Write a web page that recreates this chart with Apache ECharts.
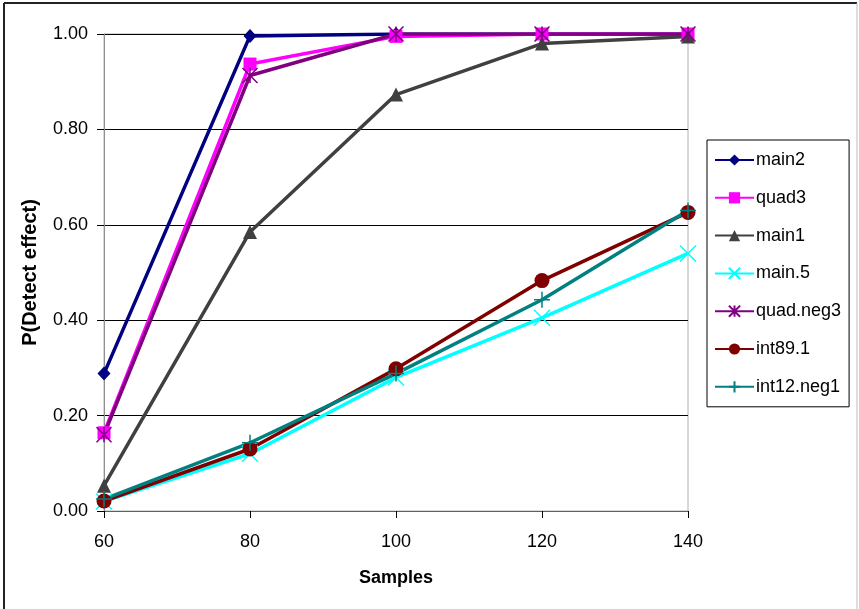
<!DOCTYPE html>
<html>
<head>
<meta charset="utf-8">
<script src="https://cdn.jsdelivr.net/npm/echarts@6/dist/echarts.min.js"></script>
<style>
html,body{margin:0;padding:0;background:#fff;}
#c{width:859px;height:609px;}
</style>
</head>
<body>
<div id="c"></div>
<script>
var categories = ['60', '80', '100', '120', '140'];
var yTicks = [0, 0.2, 0.4, 0.6, 0.8, 1.0];
var main2     = [0.288, 0.996, 1.000, 1.000, 1.000];
var quad3     = [0.164, 0.937, 0.995, 1.000, 1.000];
var main1     = [0.053, 0.585, 0.873, 0.980, 0.995];
var main5     = [0.020, 0.120, 0.280, 0.405, 0.540];
var quadNeg3  = [0.160, 0.913, 1.000, 1.000, 1.000];
var int891    = [0.021, 0.130, 0.298, 0.483, 0.626];
var int12neg1 = [0.025, 0.143, 0.288, 0.443, 0.630];
var seriesNames = ['main2', 'quad3', 'main1', 'main.5', 'quad.neg3', 'int89.1', 'int12.neg1'];
var seriesData = [main2, quad3, main1, main5, quadNeg3, int891, int12neg1];

var styles = [
  {color: '#000080', symbol: 'diamond', size: [13, 14], bw: 0},
  {color: '#FF00FF', symbol: 'rect', size: 13, bw: 0},
  {color: '#404040', symbol: 'triangle', size: 14, bw: 0},
  {color: '#00FFFF', symbol: 'path://M0,0L10,10M10,0L0,10', size: 16, bw: 1.5},
  {color: '#800080', symbol: 'path://M5,0L5,10M0,0L10,10M10,0L0,10', size: 15, bw: 1.5},
  {color: '#800000', symbol: 'circle', size: 15, bw: 0},
  {color: '#008080', symbol: 'path://M5,0L5,10M0,5L10,5', size: 16, bw: 1.5}
];

var font = '"Liberation Sans", Arial, sans-serif';
var chart = echarts.init(document.getElementById('c'), null, {renderer: 'canvas'});

var series = seriesNames.map(function (n, i) {
  var s = styles[i];
  return {
    name: n,
    type: 'line',
    data: seriesData[i],
    symbol: s.symbol,
    symbolSize: s.size,
    showAllSymbol: true,
    lineStyle: {color: s.color, width: 3.5},
    itemStyle: {color: s.color, borderColor: s.color, borderWidth: s.bw},
    emphasis: {disabled: true}
  };
});

chart.setOption({
  animation: false,
  backgroundColor: '#ffffff',
  grid: {left: 104, right: 171, top: 34, bottom: 98, show: true, borderColor: '#b0b0b0', borderWidth: 1},
  xAxis: {
    type: 'category',
    data: categories,
    boundaryGap: false,
    name: 'Samples',
    nameLocation: 'middle',
    nameGap: 58,
    nameTextStyle: {fontFamily: font, fontSize: 18, fontWeight: 'bold', color: '#000'},
    axisLine: {lineStyle: {color: '#606060', width: 1}},
    axisTick: {show: true, inside: false, length: 7, alignWithLabel: true, lineStyle: {color: '#000'}},
    axisLabel: {fontFamily: font, fontSize: 18, color: '#000', margin: 22},
    splitLine: {show: false}
  },
  yAxis: {
    type: 'value',
    min: yTicks[0],
    max: yTicks[yTicks.length - 1],
    interval: 0.2,
    name: 'P(Detect effect)',
    nameLocation: 'middle',
    nameGap: 64,
    nameTextStyle: {fontFamily: font, fontSize: 20, fontWeight: 'bold', color: '#000'},
    axisLine: {show: true, lineStyle: {color: '#909090', width: 1}},
    axisTick: {show: true, inside: false, length: 7, lineStyle: {color: '#000'}},
    axisLabel: {fontFamily: font, fontSize: 18, color: '#000', margin: 16,
      formatter: function (v) { return v.toFixed(2); }},
    splitLine: {show: true, lineStyle: {color: '#000', width: 1}}
  },
  legend: {
    orient: 'vertical',
    left: 707,
    top: 140,
    padding: [11, 8, 11, 7],
    itemWidth: 39,
    itemHeight: 14,
    itemGap: 19.8,
    borderColor: '#000',
    borderWidth: 1,
    textStyle: {fontFamily: font, fontSize: 18, color: '#000', padding: [0, 0, 0, -3]},
    data: seriesNames
  },
  graphic: [
    {type: 'line', shape: {x1: 4, y1: 3, x2: 857, y2: 3}, style: {stroke: '#222', lineWidth: 2}, silent: true},
    {type: 'line', shape: {x1: 4, y1: 3, x2: 4, y2: 609}, style: {stroke: '#222', lineWidth: 2}, silent: true},
    {type: 'line', shape: {x1: 857, y1: 3, x2: 857, y2: 609}, style: {stroke: '#bbb', lineWidth: 1}, silent: true}
  ],
  series: series
});
</script>
</body>
</html>
